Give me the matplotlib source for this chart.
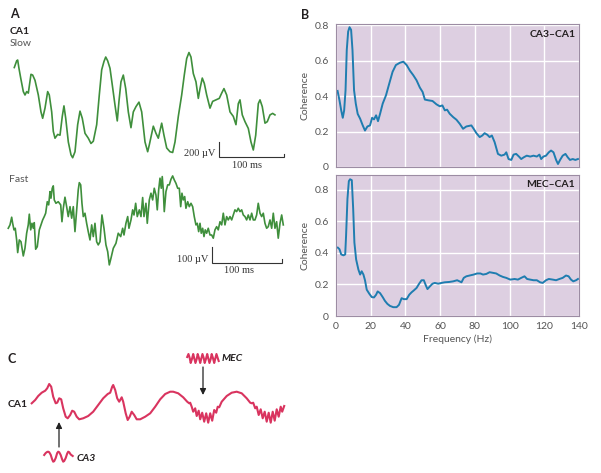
import matplotlib.pyplot as plt

plt.rcParams["font.family"] = ["Lato", "DejaVu Sans"]

# ---- panel A: CA1 traces (time in ms, voltage in uV) ----
slow_t = [0, 3.7, 5.2, 7.2, 9.9, 13.9, 16.5, 19.1, 21.6, 25.7, 28.3, 31.9, 37, 41.1, 43.7,
          47.3, 51.4, 53.9, 57.6, 60.1, 62.7, 66.8, 70.4, 73.9, 76.5, 79.2, 83.2, 87.3, 89.9,
          93.5, 97.6, 101.2, 104.7, 108.9, 114, 118.1, 121.7, 126.9, 130.9, 134.6, 138.1,
          140.8, 143.8, 147.4, 150.9, 155.1, 158.6, 161.2, 164.3, 167.9, 171.6, 175.6, 179.7,
          183.3, 187.4, 192, 196.2, 201.3, 205.4, 207.9, 214.1, 218.2, 221.8, 227, 230.5,
          234.7, 239.8, 243.9, 247.5, 252.6, 257.8, 261.8, 265.5, 269, 272.1, 275.7, 279.8,
          283.4, 286, 289.5, 292.6, 296.3, 301.4, 305.5, 310.6, 315.7, 319.4, 322.9, 327.1,
          332.2, 337.3, 341.4, 345, 347.6, 351.1, 355.3, 360.4, 364.5, 368.1, 371.8, 375.8,
          378.4, 381.9, 386.1, 389.6, 393.8, 397.9, 401.4]
slow_uv = [1230, 1320, 1330, 1220, 1090, 910, 865, 910, 890, 1140, 1130, 1060, 865, 640, 555,
           690, 910, 865, 640, 380, 290, 340, 330, 580, 720, 555, 240, 70, 30,
           110, 470, 650, 555, 355, 290, 220, 250, 470, 865, 1200, 1310,
           1370, 1320, 1220, 1000, 730, 520, 780, 1040, 1130, 950, 640, 430,
           640, 710, 770, 640, 240, 110, 200, 450, 355, 290, 490, 330,
           160, 110, 100, 240, 580, 865, 1130, 1350, 1430, 1370, 1150, 1040,
           820, 950, 1090, 1020, 865, 690, 780, 800, 820, 890, 950, 865,
           640, 580, 470, 750, 800, 600, 510, 420, 240, 133, 330, 750,
           800, 710, 490, 510, 600, 620, 600]

fast_t = [0.4, 2.9, 5.3, 6.7, 8.6, 10.4, 12.4, 13.9, 16.2, 18.6, 21.9, 24.3, 26.7, 29, 30.5,
          32.5, 34.3, 36.2, 37.6, 39.6, 41.9, 44.8, 47.2, 49.6, 51.9, 53.9, 56.2, 58.2, 60.1,
          61.5, 63.3, 64.8, 66.2, 68.6, 71.9, 75.4, 77.2, 79.1, 81.5, 83.9, 86.2, 88.7, 91.1,
          93.4, 95.8, 98.2, 100.5, 102, 104, 105.8, 107.7, 110.1, 112.5, 114.8, 117.3, 119.7,
          122, 124.4, 126.8, 129.1, 131.6, 134.4, 137.3, 140.1, 142.6, 144.9, 147.3, 150.6,
          154.4, 157.7, 161.2, 164, 165.9, 168.7, 171.2, 173, 175.9, 178.3, 180.2, 182.6,
          184.9, 187.8, 190.2, 192.6, 194.5, 197.3, 199.2, 202.1, 204.5, 206.9, 209.2, 211.6,
          213.5, 215.5, 217.4, 219.2, 220.6, 222.1, 223.5, 225.9, 228.4, 230.7, 233.1, 235.5,
          237.8, 240.2, 242.7, 245, 247, 248.8, 250.7, 252.7, 254.5, 257, 259.3, 261.7, 264.1,
          266.4, 268.8, 270.7, 272.7, 274.6, 276.4, 278.4, 280.3, 282.1, 284.1, 286.4, 288.9,
          291.3, 293.6, 296, 298.4, 300.7, 303.2, 305.6, 307.9, 310.3, 312.7, 315, 317.5,
          319.9, 322.2, 324.6, 327, 329.3, 331.8, 334.2, 336.5, 338.9, 341.3, 343.6, 346.1,
          348.5, 350.8, 353.2, 355.6, 357.9, 360.4, 362.8, 365.1, 367.5, 369.9, 372.2, 374.7,
          377.1, 379.4, 381.8, 384.2, 386.5, 389, 391.4, 393.7]
fast_uv = [248, 269, 317, 279, 238, 248, 175, 96, 175, 164, 75, 123, 217, 269, 336,
           238, 279, 248, 283, 117, 133, 238, 269, 300, 321, 342, 414, 394, 477,
           436, 498, 513, 425, 404, 414, 394, 289, 373, 442, 383, 321, 383, 311,
           383, 227, 363, 488, 533, 519, 404, 321, 342, 279, 227, 175, 269,
           196, 279, 164, 144, 164, 331, 248, 144, 102, 19, 61, 123,
           154, 217, 196, 248, 206, 279, 321, 248, 300, 363, 331, 404,
           321, 363, 321, 440, 321, 404, 279, 425, 467, 425, 498, 456,
           363, 488, 561, 498, 571, 488, 352, 477, 519, 519, 554, 575,
           550, 529, 498, 498, 383, 467, 425, 446, 373, 414, 383, 404, 383,
           321, 269, 279, 227, 279, 217, 248, 196, 238, 217, 248, 206,
           206, 186, 238, 258, 238, 289, 269, 342, 269, 321, 300, 321,
           300, 331, 363, 352, 373, 352, 363, 331, 321, 300, 331, 300,
           342, 300, 300, 331, 404, 342, 321, 342, 279, 248, 258, 300,
           248, 342, 248, 289, 186, 279, 331, 269]

# ---- panel B: coherence spectra ----
ca3_freq = [0.9, 2, 3, 3.9, 4.7, 5.5, 6.2, 7, 7.8, 8.7, 9.5, 10.4, 11.4, 12.5, 13.9, 15.4,
            16.7, 18.1, 19.6, 20.8, 21.9, 23.1, 24.2, 25.4, 26.9, 28.8, 30.7, 32.6, 34.5,
            36.8, 38.8, 40.7, 42.6, 44.5, 46.4, 48.3, 49.9, 51.2, 53.1, 55.6, 57.9, 59.8,
            61.3, 62.7, 64, 65.5, 67.5, 69.4, 71.3, 73.2, 75.1, 78, 79.3, 80.9, 82.8, 84.3,
            85.6, 87.2, 88.5, 89.8, 91.4, 93.3, 95.2, 97.1, 98.1, 99.4, 101, 102.3, 103.8,
            105.4, 106.7, 108.2, 109.9, 111.9, 113.8, 115.7, 117.2, 118.2, 119.5, 121, 122.6,
            123.9, 125.3, 126.8, 127.9, 129.1, 130.6, 132.2, 133.5, 134.8, 136.4, 137.9, 139.4]
ca3_coh = [0.43, 0.377, 0.32, 0.278, 0.32, 0.434, 0.661, 0.765, 0.79, 0.775, 0.66, 0.434,
           0.358, 0.3, 0.273, 0.235, 0.206, 0.229, 0.235, 0.278, 0.269, 0.292, 0.259, 0.301,
           0.358, 0.405, 0.472, 0.538, 0.576, 0.589, 0.595, 0.576, 0.544, 0.519, 0.49, 0.449,
           0.424, 0.381, 0.377, 0.373, 0.354, 0.343, 0.348, 0.32, 0.324, 0.301, 0.282, 0.267,
           0.244, 0.216, 0.229, 0.235, 0.216, 0.191, 0.169, 0.178, 0.191, 0.182, 0.169, 0.178,
           0.14, 0.074, 0.064, 0.07, 0.083, 0.045, 0.04, 0.07, 0.074, 0.059, 0.045, 0.055,
           0.064, 0.059, 0.064, 0.059, 0.07, 0.045, 0.059, 0.064, 0.083, 0.093, 0.083, 0.04,
           0.017, 0.04, 0.064, 0.074, 0.055, 0.04, 0.045, 0.04, 0.045]

mec_freq = [1.05, 2, 3, 4.3, 5.3, 5.8, 6.6, 7.4, 8.1, 9.1, 9.9, 10.6, 11.6, 12.9, 13.9, 14.8,
            15.8, 16.7, 17.7, 19.2, 20.6, 21.9, 23.1, 24, 25.4, 26.9, 28.2, 29.6, 31.1, 33,
            34.9, 36.3, 37.8, 39.1, 40.7, 42.2, 43.5, 44.9, 46.4, 47.9, 49.3, 50.6, 51.8,
            52.7, 54.1, 55.6, 56.9, 58.9, 60.8, 62.7, 65.2, 67.5, 69.8, 72.3, 73.6, 75.1, 77,
            79.3, 81.3, 83.2, 84.7, 86.6, 88.5, 90.4, 92.3, 94.3, 96.2, 98.1, 100.4, 102.9,
            104.8, 106.7, 108.6, 110.1, 111.9, 113.8, 115.7, 117.6, 119.1, 121, 122.6, 124.9,
            126.8, 128.7, 130.6, 132.5, 134, 135.4, 136.7, 138.3, 139.4]
mec_coh = [0.434, 0.424, 0.391, 0.385, 0.391, 0.509, 0.744, 0.856, 0.868, 0.862, 0.68, 0.466,
           0.359, 0.295, 0.263, 0.284, 0.263, 0.227, 0.167, 0.141, 0.12, 0.118, 0.135, 0.156,
           0.145, 0.12, 0.096, 0.077, 0.064, 0.056, 0.056, 0.071, 0.113, 0.107, 0.107, 0.135,
           0.15, 0.163, 0.178, 0.205, 0.227, 0.227, 0.193, 0.171, 0.188, 0.205, 0.21, 0.205,
           0.21, 0.214, 0.216, 0.22, 0.227, 0.214, 0.242, 0.252, 0.257, 0.263, 0.27, 0.27,
           0.263, 0.267, 0.278, 0.274, 0.27, 0.257, 0.248, 0.242, 0.231, 0.235, 0.231, 0.242,
           0.252, 0.235, 0.231, 0.227, 0.227, 0.214, 0.21, 0.227, 0.235, 0.231, 0.227, 0.235,
           0.242, 0.257, 0.252, 0.231, 0.22, 0.227, 0.235]

freq_ticks = [0, 20, 40, 60, 80, 100, 120, 140]
coh_ticks = [0, 0.2, 0.4, 0.6, 0.8]
coh_tick_labels = ["0", "0.2", "0.4", "0.6", "0.8"]

# ---- panel C: schematic CA1 wave (time in ms, arbitrary amplitude) ----
ca1_t = [0, 7, 13, 20, 27, 31, 35, 39, 43, 48, 51, 55, 59, 63, 68, 72, 77, 81, 85, 90, 95,
         103, 113, 123, 133, 143, 152, 157, 161, 163, 167, 171, 175, 180, 183, 188, 192, 196,
         200, 205, 210, 217, 227, 237, 247, 257, 267, 277, 283, 293, 303, 311, 315, 317, 320,
         323, 327, 330, 334, 337, 341, 345, 349, 353, 357, 361, 365, 369, 372, 375, 380, 390,
         400, 410, 420, 430, 437, 440, 443, 447, 450, 454, 458, 462, 466, 470, 474, 478, 482,
         486, 490, 494, 498, 501, 505]
ca1_amp = [2.17, 2.5, 2.9, 3.23, 3.43, 3.67, 4.1, 3.83, 2.83, 2.17, 2.23, 2.67, 2.57, 1.67,
           0.83, 0.67, 1.0, 1.43, 1.33, 0.83, 0.57, 0.67, 0.9, 1.33, 2.0, 2.67, 3.1, 3.23, 3.83,
           4.0, 3.5, 2.67, 2.33, 2.77, 2.33, 1.17, 0.5, 0.83, 1.33, 1.0, 0.57, 0.57, 0.83, 1.17,
           1.83, 2.57, 3.1, 3.33, 3.33, 3.17, 2.77, 2.33, 2.17, 2.23, 1.83, 1.33, 1.67, 0.9,
           1.43, 0.57, 1.23, 0.33, 1.17, 0.23, 1.17, 0.43, 1.5, 1.23, 1.83, 1.77, 2.33, 2.9,
           3.23, 3.33, 3.17, 2.67, 2.23, 2.17, 2.23, 1.67, 1.83, 1.0, 1.57, 0.67, 1.33, 0.33,
           1.23, 0.23, 1.33, 0.43, 1.57, 0.83, 1.83, 1.33, 1.9]

mec_burst_t = [311, 313.5, 316, 318, 320.5, 323, 325, 327.5, 330, 332, 334.5, 337, 339, 341.5,
               344, 346, 348.5, 351, 353, 355.5, 358, 360, 362.5, 365, 367, 369.5, 372, 374]
mec_burst_amp = [6.8, 7.1, 6.7, 6.2, 6.6, 7.1, 6.7, 6.2, 6.6, 7.1, 6.7, 6.2, 6.6, 7.1,
                 6.7, 6.2, 6.6, 7.1, 6.7, 6.2, 6.6, 7.1, 6.7, 6.2, 6.6, 7.1, 6.7, 6.4]
ca3_burst_t = [25, 28, 31, 33, 35, 38, 41, 43, 45, 48, 51, 53, 55, 58, 61, 63, 65, 68, 71, 73,
               75, 78, 82]
ca3_burst_amp = [-3.0, -2.8, -2.69, -2.67, -2.72, -2.98, -3.45, -3.67, -3.62, -3.3, -2.8,
                 -2.67, -2.72, -3.0, -3.45, -3.67, -3.6, -3.3, -2.85, -2.67, -2.72, -2.95, -3.1]

GREEN = "#3f8f3c"
BLUE = "#1f7db0"
CRIMSON = "#d9345f"
LAVENDER = "#ddcfe1"
TEXT = "#231f20"
GRAY = "#555555"
SERIF = ["Liberation Serif", "DejaVu Serif"]

W, H = 601, 473


def px_axes(fig, x0, y0, x1, y1):
    return fig.add_axes([x0 / W, 1 - y1 / H, (x1 - x0) / W, (y1 - y0) / H])


def scale_bar(ax, t0, v0, length_t, length_v, tick_v, v_label, t_label, v_pos, t_pos):
    ax.plot([t0, t0, t0 + length_t, t0 + length_t], [v0 + length_v, v0, v0, v0 + tick_v],
            color="#333333", lw=0.8, solid_joinstyle="miter")
    ax.text(v_pos[0], v_pos[1], v_label, ha="right", va="center", fontsize=7.5,
            family=SERIF, color="#333333")
    ax.text(t_pos[0], t_pos[1], t_label, ha="center", va="center", fontsize=7.5,
            family=SERIF, color="#333333")


fig = plt.figure(figsize=(W / 100, H / 100), dpi=100)

# Panel A
ax_slow = px_axes(fig, 0, 45, 300, 170)
ax_slow.plot(slow_t, slow_uv, color=GREEN, lw=1.2)
ax_slow.set_xlim(-22, 440)
ax_slow.set_ylim(-133, 1530)
scale_bar(ax_slow, 315, 40, 100, 200, 40, "200 µV", "100 ms", (309, 80), (358, -67))
ax_slow.axis("off")

ax_fast = px_axes(fig, 0, 170, 300, 275)
ax_fast.plot(fast_t, fast_uv, color=GREEN, lw=1.2)
ax_fast.set_xlim(-11.4, 417.6)
ax_fast.set_ylim(-44, 612)
scale_bar(ax_fast, 292, 31, 100, 100, 25, "100 µV", "100 ms", (287, 54), (331, -19))
ax_fast.axis("off")

# Panel B
ax_top = px_axes(fig, 336, 24, 579, 167)
ax_bot = px_axes(fig, 336, 175, 579, 316)
for ax, freq, coh, ytop, name in [(ax_top, ca3_freq, ca3_coh, 0.808, "CA3–CA1"),
                                   (ax_bot, mec_freq, mec_coh, 0.895, "MEC–CA1")]:
    ax.set_facecolor(LAVENDER)
    ax.plot(freq, coh, color=BLUE, lw=1.4)
    ax.set_xlim(0, 140)
    ax.set_ylim(0, ytop)
    ax.set_xticks(freq_ticks)
    ax.set_yticks(coh_ticks)
    ax.set_yticklabels(coh_tick_labels)
    ax.grid(True, color="white", lw=1.0)
    ax.set_axisbelow(True)
    ax.tick_params(length=0, pad=5, labelsize=7.5, labelcolor=GRAY)
    for spine in ax.spines.values():
        spine.set_color("#9c8ca3")
        spine.set_linewidth(0.8)
    ax.set_ylabel("Coherence", fontsize=7.5, color=GRAY, labelpad=4)
    ax.text(0.985, 0.93, name, transform=ax.transAxes, ha="right", va="center",
            fontsize=7.5, fontweight="bold", color=TEXT)
ax_top.tick_params(labelbottom=False)
ax_bot.tick_params(axis="x", pad=4)
ax_bot.set_xlabel("Frequency (Hz)", fontsize=7.5, color=GRAY, labelpad=3)

# Panel C
ax_c = px_axes(fig, 0, 340, 300, 473)
ax_c.plot(ca1_t, ca1_amp, color=CRIMSON, lw=1.5, solid_joinstyle="round")
ax_c.plot(mec_burst_t, mec_burst_amp, color=CRIMSON, lw=1.5, solid_joinstyle="round")
ax_c.plot(ca3_burst_t, ca3_burst_amp, color=CRIMSON, lw=1.5, solid_joinstyle="round")
ax_c.annotate("", xy=(342.6, 3.0), xytext=(342.6, 5.8),
              arrowprops=dict(arrowstyle="-|>", color="#222222", lw=0.9,
                              mutation_scale=9, shrinkA=0, shrinkB=0))
ax_c.annotate("", xy=(54.6, 0.3), xytext=(54.6, -2.2),
              arrowprops=dict(arrowstyle="-|>", color="#222222", lw=0.9,
                              mutation_scale=9, shrinkA=0, shrinkB=0))
ax_c.set_xlim(-63.4, 536.6)
ax_c.set_ylim(-4.8, 8.5)
ax_c.axis("off")

# Labels
fig.text(10 / W, 1 - 14 / H, "A", fontsize=9, fontweight="bold", color=TEXT, va="center")
fig.text(10 / W, 1 - 31.5 / H, "CA1", fontsize=7.5, fontweight="bold", color=TEXT, va="center")
fig.text(10 / W, 1 - 44 / H, "Slow", fontsize=7.5, color=GRAY, va="center")
fig.text(9 / W, 1 - 179 / H, "Fast", fontsize=7.5, color=GRAY, va="center")
fig.text(301 / W, 1 - 15 / H, "B", fontsize=9, fontweight="bold", color=TEXT, va="center")
fig.text(8 / W, 1 - 359 / H, "C", fontsize=9, fontweight="bold", color=TEXT, va="center")
fig.text(8 / W, 1 - 404 / H, "CA1", fontsize=7.5, fontweight="bold", color=TEXT, va="center")
fig.text(222 / W, 1 - 358.5 / H, "MEC", fontsize=7.5, fontweight="bold", style="italic",
         color=TEXT, va="center")
fig.text(77 / W, 1 - 458 / H, "CA3", fontsize=7.5, fontweight="bold", style="italic",
         color=TEXT, va="center")

fig.savefig("out.png", dpi=100)
